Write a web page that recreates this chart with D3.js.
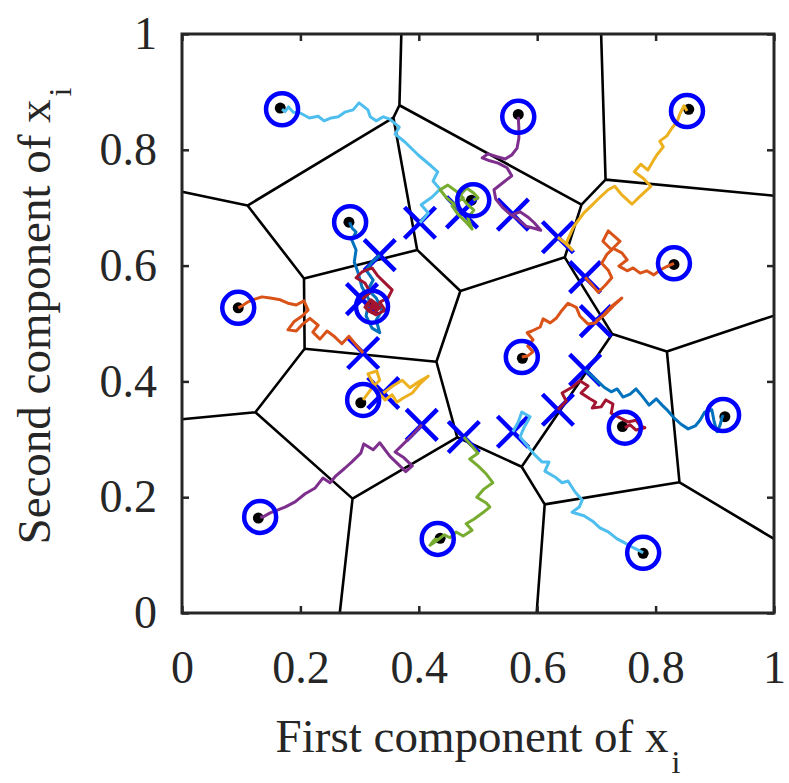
<!DOCTYPE html>
<html>
<head>
<meta charset="utf-8">
<script src="https://cdn.jsdelivr.net/npm/d3@7"></script>
<style>
  body { margin: 0; background: #fff; }
  text { font-family: "Liberation Serif", "Times New Roman", serif; fill: #262626; }
</style>
</head>
<body>
<div id="chart"></div>
<script>
// ---- data ----
var tickValues = [0, 0.2, 0.4, 0.6, 0.8, 1];
var tickLabels = ["0", "0.2", "0.4", "0.6", "0.8", "1"];

// true points (black dots), also the Voronoi sites
var targets = [
  [0.166, 0.872], [0.282, 0.675], [0.318, 0.529], [0.095, 0.527], [0.302, 0.363],
  [0.129, 0.164], [0.436, 0.129], [0.779, 0.103], [0.744, 0.322], [0.917, 0.339],
  [0.575, 0.440], [0.831, 0.602], [0.856, 0.870], [0.568, 0.861], [0.489, 0.713]
];
// final estimates (blue circles)
var estimates = [
  [0.169, 0.870], [0.284, 0.675], [0.321, 0.529], [0.095, 0.527], [0.306, 0.368],
  [0.132, 0.166], [0.432, 0.128], [0.779, 0.104], [0.748, 0.320], [0.914, 0.342],
  [0.574, 0.442], [0.831, 0.604], [0.853, 0.867], [0.568, 0.857], [0.492, 0.713]
];
// starting points (blue crosses)
var starts = [
  [0.402, 0.674], [0.334, 0.618], [0.304, 0.542], [0.306, 0.449], [0.340, 0.380],
  [0.405, 0.325], [0.476, 0.304], [0.559, 0.313], [0.635, 0.351], [0.681, 0.420],
  [0.699, 0.504], [0.681, 0.580], [0.635, 0.649], [0.559, 0.688], [0.473, 0.692]
];
var walkColors = ["#4DBEEE", "#0072BD", "#A2142F", "#D95319", "#EDB120",
  "#7E2F8E", "#77AC30", "#4DBEEE", "#A2142F", "#0072BD",
  "#D95319", "#D95319", "#EDB120", "#7E2F8E", "#77AC30"];

// iterate trajectories
var walk01 = [[0.402,0.674],[0.416,0.691],[0.404,0.705],[0.422,0.718],[0.436,0.732],[0.424,0.746],[0.432,0.762],[0.421,0.772],[0.399,0.791],[0.377,0.813],[0.360,0.827],[0.367,0.839],[0.351,0.853],[0.340,0.857],[0.328,0.850],[0.318,0.857],[0.314,0.869],[0.299,0.881],[0.289,0.869],[0.275,0.865],[0.264,0.857],[0.252,0.855],[0.240,0.850],[0.230,0.858],[0.215,0.855],[0.199,0.864],[0.188,0.865],[0.180,0.874],[0.174,0.866],[0.169,0.870]];
var walk02 = [[0.334,0.618],[0.321,0.606],[0.311,0.592],[0.323,0.575],[0.314,0.558],[0.328,0.544],[0.338,0.523],[0.328,0.506],[0.334,0.484],[0.321,0.492],[0.311,0.513],[0.316,0.541],[0.304,0.563],[0.297,0.589],[0.291,0.606],[0.294,0.627],[0.287,0.644],[0.294,0.658],[0.288,0.664],[0.284,0.672],[0.284,0.675]];
var walk03 = [[0.304,0.542],[0.318,0.554],[0.309,0.570],[0.294,0.579],[0.304,0.589],[0.321,0.596],[0.331,0.582],[0.341,0.572],[0.355,0.558],[0.348,0.544],[0.334,0.537],[0.343,0.523],[0.328,0.515],[0.314,0.522],[0.331,0.532],[0.319,0.541],[0.309,0.528],[0.324,0.518],[0.334,0.527],[0.321,0.535],[0.328,0.524],[0.316,0.531],[0.321,0.529]];
var walk04 = [[0.306,0.449],[0.294,0.463],[0.282,0.478],[0.270,0.465],[0.258,0.477],[0.245,0.487],[0.233,0.473],[0.221,0.485],[0.230,0.497],[0.216,0.509],[0.204,0.499],[0.193,0.487],[0.179,0.489],[0.189,0.503],[0.203,0.513],[0.213,0.523],[0.206,0.539],[0.193,0.532],[0.179,0.535],[0.166,0.541],[0.149,0.544],[0.135,0.546],[0.123,0.542],[0.111,0.537],[0.101,0.530],[0.095,0.527]];
var walk05 = [[0.340,0.380],[0.356,0.392],[0.372,0.402],[0.385,0.389],[0.399,0.399],[0.416,0.409],[0.402,0.396],[0.389,0.380],[0.373,0.371],[0.363,0.364],[0.355,0.377],[0.343,0.368],[0.331,0.382],[0.323,0.397],[0.314,0.413],[0.329,0.418],[0.334,0.402],[0.321,0.389],[0.311,0.375],[0.306,0.368]];
var walk06 = [[0.405,0.325],[0.389,0.307],[0.372,0.290],[0.360,0.278],[0.375,0.268],[0.389,0.254],[0.378,0.244],[0.365,0.257],[0.351,0.271],[0.334,0.294],[0.323,0.282],[0.307,0.292],[0.302,0.276],[0.287,0.261],[0.275,0.250],[0.260,0.237],[0.250,0.225],[0.238,0.233],[0.225,0.216],[0.208,0.206],[0.191,0.192],[0.174,0.183],[0.162,0.178],[0.149,0.173],[0.137,0.166],[0.132,0.166]];
var walk07 = [[0.476,0.304],[0.490,0.288],[0.500,0.276],[0.486,0.266],[0.500,0.254],[0.514,0.240],[0.525,0.225],[0.510,0.214],[0.498,0.200],[0.514,0.190],[0.520,0.183],[0.508,0.173],[0.493,0.162],[0.480,0.154],[0.490,0.143],[0.475,0.133],[0.463,0.140],[0.453,0.130],[0.443,0.135],[0.429,0.124],[0.419,0.117],[0.426,0.126],[0.432,0.128]];
var walk08 = [[0.559,0.313],[0.568,0.330],[0.574,0.347],[0.588,0.339],[0.578,0.321],[0.571,0.304],[0.584,0.288],[0.596,0.273],[0.608,0.261],[0.620,0.261],[0.613,0.245],[0.630,0.235],[0.642,0.225],[0.652,0.228],[0.664,0.209],[0.676,0.195],[0.671,0.183],[0.659,0.174],[0.679,0.168],[0.693,0.159],[0.706,0.147],[0.720,0.140],[0.735,0.128],[0.748,0.121],[0.760,0.114],[0.770,0.109],[0.779,0.104]];
var walk09 = [[0.635,0.351],[0.649,0.366],[0.642,0.380],[0.659,0.390],[0.672,0.401],[0.686,0.392],[0.674,0.380],[0.689,0.370],[0.699,0.364],[0.693,0.354],[0.708,0.356],[0.716,0.368],[0.728,0.361],[0.725,0.345],[0.740,0.337],[0.753,0.330],[0.767,0.333],[0.774,0.323],[0.782,0.320],[0.767,0.316],[0.757,0.325],[0.748,0.320]];
var walk10 = [[0.681,0.420],[0.693,0.409],[0.703,0.399],[0.713,0.390],[0.725,0.382],[0.735,0.387],[0.745,0.373],[0.757,0.378],[0.767,0.387],[0.777,0.375],[0.789,0.359],[0.801,0.370],[0.811,0.359],[0.821,0.349],[0.831,0.337],[0.843,0.326],[0.855,0.318],[0.867,0.323],[0.875,0.333],[0.883,0.347],[0.895,0.351],[0.899,0.330],[0.904,0.313],[0.909,0.325],[0.912,0.337],[0.914,0.342]];
var walk11 = [[0.699,0.504],[0.715,0.516],[0.728,0.530],[0.743,0.544],[0.726,0.530],[0.713,0.516],[0.698,0.501],[0.686,0.499],[0.672,0.513],[0.666,0.528],[0.652,0.535],[0.642,0.523],[0.632,0.509],[0.622,0.501],[0.610,0.508],[0.605,0.494],[0.591,0.487],[0.583,0.484],[0.593,0.472],[0.584,0.461],[0.593,0.451],[0.584,0.444],[0.574,0.442]];
var walk12 = [[0.681,0.580],[0.694,0.565],[0.703,0.554],[0.715,0.566],[0.726,0.579],[0.720,0.592],[0.709,0.604],[0.718,0.620],[0.726,0.627],[0.711,0.642],[0.720,0.660],[0.730,0.651],[0.740,0.642],[0.728,0.630],[0.743,0.622],[0.752,0.610],[0.738,0.599],[0.752,0.591],[0.762,0.596],[0.774,0.587],[0.785,0.591],[0.797,0.584],[0.807,0.592],[0.818,0.598],[0.831,0.604]];
var walk13 = [[0.635,0.649],[0.647,0.639],[0.659,0.627],[0.649,0.639],[0.662,0.668],[0.679,0.691],[0.693,0.705],[0.706,0.718],[0.720,0.731],[0.731,0.737],[0.743,0.722],[0.760,0.706],[0.774,0.720],[0.792,0.737],[0.779,0.751],[0.764,0.762],[0.775,0.775],[0.787,0.765],[0.796,0.781],[0.802,0.791],[0.813,0.805],[0.807,0.815],[0.819,0.824],[0.828,0.838],[0.836,0.848],[0.841,0.862],[0.848,0.876],[0.853,0.867]];
var walk14 = [[0.559,0.688],[0.571,0.693],[0.584,0.684],[0.595,0.674],[0.606,0.661],[0.593,0.665],[0.581,0.668],[0.569,0.679],[0.554,0.689],[0.541,0.701],[0.530,0.715],[0.527,0.731],[0.542,0.743],[0.557,0.755],[0.549,0.769],[0.534,0.777],[0.520,0.781],[0.507,0.786],[0.517,0.793],[0.532,0.788],[0.546,0.784],[0.557,0.791],[0.566,0.803],[0.569,0.820],[0.569,0.838],[0.568,0.857]];
var walk15 = [[0.473,0.692],[0.461,0.705],[0.446,0.718],[0.436,0.731],[0.449,0.739],[0.465,0.727],[0.475,0.717],[0.456,0.703],[0.466,0.689],[0.480,0.675],[0.490,0.663],[0.483,0.682],[0.493,0.696],[0.480,0.708],[0.470,0.722],[0.481,0.734],[0.493,0.725],[0.500,0.717],[0.492,0.713]];
var walks = [walk01, walk02, walk03, walk04, walk05, walk06, walk07, walk08,
  walk09, walk10, walk11, walk12, walk13, walk14, walk15];

// ---- chart set-up ----
var svgWidth = 789;
var svgHeight = 783;
var margin = { top: 34, right: 15, bottom: 170, left: 182 };
var width = svgWidth - margin.left - margin.right;
var height = svgHeight - margin.top - margin.bottom;

var svg = d3.select("#chart")
  .append("svg")
  .attr("width", svgWidth)
  .attr("height", svgHeight);

var chartGroup = svg.append("g")
  .attr("transform", `translate(${margin.left}, ${margin.top})`);

var x = d3.scaleLinear().domain([0, 1]).range([0, width]);
var y = d3.scaleLinear().domain([0, 1]).range([height, 0]);

// Voronoi cells of the true points
var delaunay = d3.Delaunay.from(targets, d => x(d[0]), d => y(d[1]));
var voronoi = delaunay.voronoi([x(0), y(1), x(1), y(0)]);
chartGroup.append("path")
  .attr("d", voronoi.render())
  .attr("fill", "none")
  .attr("stroke", "#000")
  .attr("stroke-width", 2.6);

// black dots
chartGroup.selectAll(".target")
  .data(targets)
  .enter()
  .append("circle")
  .attr("class", "target")
  .attr("cx", d => x(d[0]))
  .attr("cy", d => y(d[1]))
  .attr("r", 5.5)
  .attr("fill", "#000");

// crosses at the starting points
var arm = 15.5;
chartGroup.selectAll(".start")
  .data(starts)
  .enter()
  .append("path")
  .attr("class", "start")
  .attr("d", function(d) {
    var cx = x(d[0]), cy = y(d[1]);
    return `M${cx - arm},${cy - arm}L${cx + arm},${cy + arm}M${cx - arm},${cy + arm}L${cx + arm},${cy - arm}`;
  })
  .attr("stroke", "#0000FF")
  .attr("stroke-width", 4.5)
  .attr("fill", "none");

// trajectories
var line = d3.line()
  .x(d => x(d[0]))
  .y(d => y(d[1]));

chartGroup.selectAll(".walk")
  .data(walks)
  .enter()
  .append("path")
  .attr("class", "walk")
  .attr("d", line)
  .attr("fill", "none")
  .attr("stroke", (d, i) => walkColors[i])
  .attr("stroke-width", 3)
  .attr("stroke-linejoin", "round");

// final estimates
chartGroup.selectAll(".estimate")
  .data(estimates)
  .enter()
  .append("circle")
  .attr("class", "estimate")
  .attr("cx", d => x(d[0]))
  .attr("cy", d => y(d[1]))
  .attr("r", 16)
  .attr("fill", "none")
  .attr("stroke", "#0000FF")
  .attr("stroke-width", 4.5);

// axes, ticks pointing inwards on all four sides
var fmt = (d, i) => tickLabels[i];
var bottomAxis = d3.axisBottom(x).tickValues(tickValues).tickFormat(fmt).tickSize(-7).tickPadding(37);
var leftAxis = d3.axisLeft(y).tickValues(tickValues).tickFormat(fmt).tickSize(-7).tickPadding(25);
var topAxis = d3.axisTop(x).tickValues(tickValues).tickFormat("").tickSize(-7);
var rightAxis = d3.axisRight(y).tickValues(tickValues).tickFormat("").tickSize(-7);

function styleAxis(g) {
  g.select(".domain").remove();
  g.selectAll(".tick line").attr("stroke", "#262626").attr("stroke-width", 2.5);
  g.selectAll(".tick text")
    .attr("fill", "#262626")
    .style("font-family", '"Liberation Serif", "Times New Roman", serif')
    .style("font-size", "46px");
}

chartGroup.append("g").attr("transform", `translate(0, ${height})`).call(bottomAxis).call(styleAxis);
chartGroup.append("g").call(leftAxis).call(styleAxis);
chartGroup.append("g").call(topAxis).call(styleAxis);
chartGroup.append("g").attr("transform", `translate(${width}, 0)`).call(rightAxis).call(styleAxis);

chartGroup.append("rect")
  .attr("width", width)
  .attr("height", height)
  .attr("fill", "none")
  .attr("stroke", "#262626")
  .attr("stroke-width", 3);

// axis labels
var xLabel = chartGroup.append("text")
  .attr("x", width / 2)
  .attr("y", height + 139)
  .attr("text-anchor", "middle")
  .style("font-size", "47px");
xLabel.append("tspan").text("First component of x");
xLabel.append("tspan").attr("dx", 3).attr("dy", 21).style("font-size", "32px").text("i");

var yLabel = chartGroup.append("text")
  .attr("transform", `translate(${50 - margin.left}, ${316 - margin.top}) rotate(-90)`)
  .attr("text-anchor", "middle")
  .style("font-size", "47px");
yLabel.append("tspan").text("Second component of x");
yLabel.append("tspan").attr("dx", 3).attr("dy", 21).style("font-size", "32px").text("i");
</script>
</body>
</html>
